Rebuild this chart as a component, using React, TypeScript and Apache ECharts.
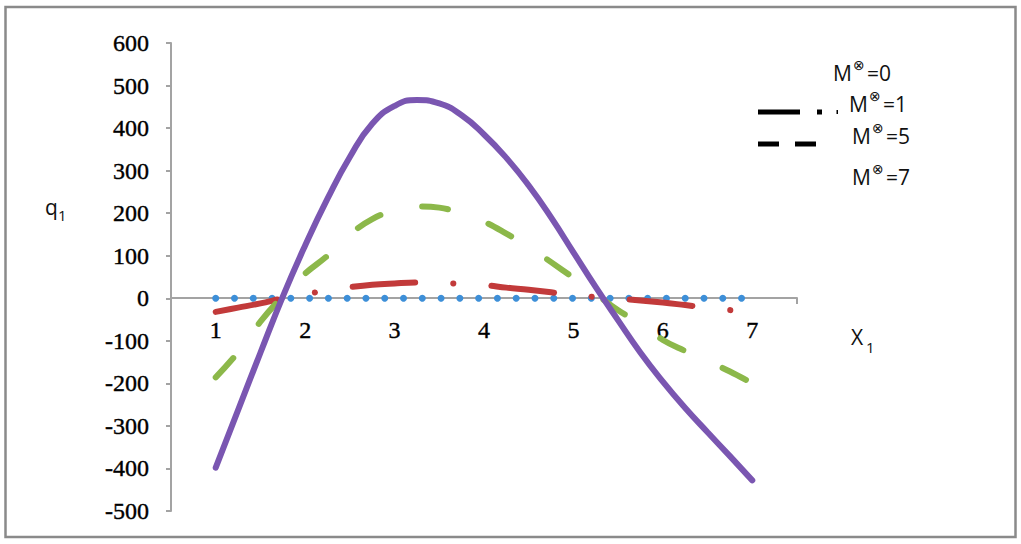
import React, { useEffect, useRef } from "react";
import * as echarts from "echarts";

// ---- data ----
const xTickLabels = [1, 2, 3, 4, 5, 6, 7];
const yMin = -500;
const yMax = 600;

// M=0 (blue dotted markers, all zero)
const blueX = [1.0, 1.21, 1.42, 1.63, 1.84, 2.05, 2.26, 2.47, 2.68, 2.89, 3.1, 3.31, 3.52, 3.73, 3.94, 4.15, 4.36, 4.57, 4.78, 4.99, 5.2, 5.41, 5.62, 5.83, 6.04, 6.25, 6.46, 6.67, 6.88];
const blueY = [0, 0, 0, 0, 0, 0, 0, 0, 0, 0, 0, 0, 0, 0, 0, 0, 0, 0, 0, 0, 0, 0, 0, 0, 0, 0, 0, 0, 0];

// M=1 (red, dash-dot)
const redX = [1.0, 1.25, 1.5, 1.75, 2.0, 2.25, 2.5, 2.75, 3.0, 3.25, 3.5, 3.75, 4.0, 4.25, 4.5, 4.75, 5.0, 5.25, 5.5, 5.75, 6.0, 6.25, 6.5, 6.85];
const redY = [-32, -22, -12, 0, 10, 18, 26, 32, 35, 37, 36, 34, 31, 25, 20, 14, 7, 3, -1, -5, -10, -16, -22, -30];

// M=5 (green, dashed)
const greenX = [1.0, 1.25, 1.5, 1.75, 2.0, 2.25, 2.5, 2.75, 3.0, 3.25, 3.5, 3.75, 4.0, 4.25, 4.5, 4.75, 5.0, 5.25, 5.5, 5.75, 6.0, 6.25, 6.5, 6.75, 7.0];
const greenY = [-186, -127, -55, 5, 58, 100, 150, 186, 207, 216, 213, 200, 180, 152, 121, 85, 48, 10, -28, -60, -98, -124, -148, -172, -200];

// M=7 (purple, solid)
const purpleX = [1.0, 1.25, 1.5, 1.75, 2.0, 2.25, 2.5, 2.75, 3.0, 3.25, 3.5, 3.75, 4.0, 4.25, 4.5, 4.75, 5.0, 5.25, 5.5, 5.75, 6.0, 6.25, 6.5, 6.75, 7.0];
const purpleY = [-398, -263, -128, 4, 124, 234, 332, 410, 452, 466, 458, 430, 385, 330, 265, 190, 108, 26, -52, -128, -196, -258, -315, -371, -428];

const legendLabels = ["0", "1", "5", "7"];

const zip = (xs: number[], ys: number[]) => xs.map((x, i) => [x, ys[i]]);

const sansFont = "'Open Sans', 'Noto Sans', sans-serif";
const serifFont = "'Liberation Serif', 'DejaVu Serif', serif";

function legendText(x: number, y: number, val: string) {
  return [
    { type: "text", left: x, top: y - 14, style: { text: "M", font: `21px ${sansFont}`, fill: "#111" } },
    { type: "text", left: x + 20, top: y - 18, style: { text: "⊗", font: `14px 'DejaVu Sans', sans-serif`, fill: "#111" } },
    { type: "text", left: x + 34, top: y - 14, style: { text: "=" + val, font: `21px ${sansFont}`, fill: "#111" } },
  ];
}

export default function App() {
  const ref = useRef<HTMLDivElement>(null);

  useEffect(() => {
    if (!ref.current) return;
    const chart = echarts.init(ref.current, undefined, { renderer: "svg" });
    const legendPos = [
      [833, 76],
      [849, 107],
      [852, 139],
      [852, 180],
    ];
    const legendGraphics: any[] = [];
    legendLabels.forEach((v, i) => {
      legendGraphics.push(...legendText(legendPos[i][0], legendPos[i][1], v));
    });

    chart.setOption({
      animation: false,
      backgroundColor: "#ffffff",
      grid: { left: 171, right: 224, top: 43, bottom: 33, containLabel: false, outerBoundsMode: "none" },
      xAxis: {
        type: "value",
        min: 0.5,
        max: 7.5,
        offset: -213,
        axisLine: { onZero: false, lineStyle: { color: "#a3a3a3", width: 2 } },
        axisTick: { show: true, customValues: [7.5], length: 6, lineStyle: { color: "#a3a3a3", width: 2 } },
        axisLabel: {
          customValues: xTickLabels,
          margin: 20,
          fontFamily: serifFont,
          fontSize: 24,
          color: "#000",
          textBorderColor: "#000",
          textBorderWidth: 0.4,
        },
        splitLine: { show: false },
      },
      yAxis: {
        type: "value",
        min: yMin,
        max: yMax,
        interval: 100,
        axisLine: { show: true, lineStyle: { color: "#a3a3a3", width: 2 } },
        axisTick: { show: true, length: 5, lineStyle: { color: "#a3a3a3", width: 2 } },
        axisLabel: {
          margin: 22,
          fontFamily: serifFont,
          fontSize: 24,
          color: "#000",
          textBorderColor: "#000",
          textBorderWidth: 0.4,
        },
        splitLine: { show: false },
      },
      series: [
        {
          name: "M=0",
          type: "line",
          data: zip(blueX, blueY),
          symbol: "circle",
          symbolSize: 7,
          showAllSymbol: true,
          itemStyle: { color: "#3d8fd8" },
          lineStyle: { opacity: 0, width: 0 },
          z: 2,
        },
        {
          name: "M=1",
          type: "line",
          data: zip(redX, redY),
          smooth: 0.4,
          showSymbol: false,
          lineStyle: { color: "#c23a3a", width: 6, cap: "round", type: [63, 38, 0.1, 38] },
          z: 3,
        },
        {
          name: "M=5",
          type: "line",
          data: zip(greenX, greenY),
          smooth: 0.4,
          showSymbol: false,
          lineStyle: { color: "#8cb84a", width: 6, cap: "round", type: [26, 43] },
          z: 4,
        },
        {
          name: "M=7",
          type: "line",
          data: zip(purpleX, purpleY),
          smooth: 0.5,
          showSymbol: false,
          lineStyle: { color: "#7a56b1", width: 6, cap: "round" },
          z: 5,
        },
      ],
      graphic: [
        {
          type: "rect",
          shape: { x: 5.5, y: 7, width: 1010, height: 530 },
          style: { fill: "none", stroke: "#8a8a8a", lineWidth: 2.5 },
          silent: true,
        },
        // axis names
        { type: "text", left: 45, top: 196, style: { text: "q", font: `21px ${sansFont}`, fill: "#111" } },
        { type: "text", left: 58, top: 207, style: { text: "1", font: `15px ${sansFont}`, fill: "#111" } },
        { type: "text", left: 851, top: 326, style: { text: "X", font: `21px ${sansFont}`, fill: "#111" } },
        { type: "text", left: 866, top: 339, style: { text: "1", font: `15px ${sansFont}`, fill: "#111" } },
        // legend samples
        { type: "line", shape: { x1: 758, y1: 112, x2: 800, y2: 112 }, style: { stroke: "#000", lineWidth: 5 } },
        { type: "rect", shape: { x: 817, y: 109.5, width: 5, height: 5 }, style: { fill: "#000" } },
        { type: "rect", shape: { x: 836.5, y: 110, width: 1.5, height: 4 }, style: { fill: "#000" } },
        { type: "line", shape: { x1: 758, y1: 144, x2: 779, y2: 144 }, style: { stroke: "#000", lineWidth: 5 } },
        { type: "line", shape: { x1: 795, y1: 144, x2: 816, y2: 144 }, style: { stroke: "#000", lineWidth: 5 } },
        ...legendGraphics,
      ],
    });
    return () => chart.dispose();
  }, []);

  return (
    <div
      ref={ref}
      style={{ position: "absolute", left: 0, top: 0, width: 1021, height: 544 }}
    />
  );
}
